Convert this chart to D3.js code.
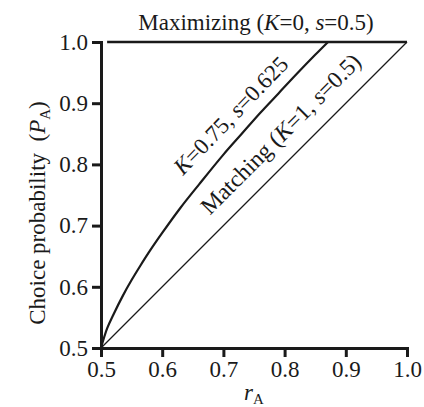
<!DOCTYPE html>
<html><head><meta charset="utf-8">
<script src="https://cdn.jsdelivr.net/npm/d3@7"></script>
<style>
body{margin:0;background:#fff;}
text{font-family:"Liberation Serif","Times New Roman",serif;fill:#1a1a1a;}
</style>
</head><body><svg id="c" width="424" height="407"></svg>
<script>
// ---- data ----
const xTicks = [0.5, 0.6, 0.7, 0.8, 0.9, 1.0];
const yTicks = [0.5, 0.6, 0.7, 0.8, 0.9, 1.0];
const matchR = [0.5, 1.0];
const matchP = [0.5, 1.0];
const kR = [0.5, 0.51, 0.52, 0.536, 0.55, 0.564, 0.58, 0.6, 0.629, 0.66, 0.7, 0.73, 0.76, 0.79, 0.82, 0.85, 0.871];
const kP = [0.5, 0.532, 0.554, 0.586, 0.611, 0.634, 0.659, 0.688, 0.728, 0.767, 0.816, 0.850, 0.884, 0.916, 0.948, 0.979, 1.0];
const maxR = [0.51, 1.0];
const maxP = [1.0, 1.0];

const W = 424, H = 407;
const m = {l: 101, r: 17, t: 42, b: 59};
const svg = d3.select("#c");
const x = d3.scaleLinear().domain([0.5, 1.0]).range([m.l, W - m.r]);
const y = d3.scaleLinear().domain([0.5, 1.0]).range([H - m.b, m.t]);
const FS = 23;
const ink = "#1a1a1a";
const FF = '"Liberation Serif","Times New Roman",serif';

svg.append("path").datum(d3.zip(matchR, matchP))
  .attr("d", d3.line().x(d => x(d[0])).y(d => y(d[1])))
  .attr("fill", "none").attr("stroke", ink).attr("stroke-width", 1.3);
svg.append("path").datum(d3.zip(kR, kP))
  .attr("d", d3.line().x(d => x(d[0])).y(d => y(d[1])).curve(d3.curveCatmullRom.alpha(0.5)))
  .attr("fill", "none").attr("stroke", ink).attr("stroke-width", 2.2);
svg.append("path").datum(d3.zip(maxR, maxP))
  .attr("d", d3.line().x(d => x(d[0])).y(d => y(d[1])))
  .attr("fill", "none").attr("stroke", ink).attr("stroke-width", 2.4);

// axes
const gx = svg.append("g").attr("transform", `translate(0,${y(0.5)})`)
  .call(d3.axisBottom(x).tickValues(xTicks).tickFormat(d3.format(".1f")).tickSize(9).tickSizeOuter(0).tickPadding(4));
const gy = svg.append("g").attr("transform", `translate(${x(0.5)},0)`)
  .call(d3.axisLeft(y).tickValues(yTicks).tickFormat(d3.format(".1f")).tickSize(9).tickSizeOuter(0).tickPadding(4));
[gx, gy].forEach(g => {
  g.select(".domain").attr("stroke", ink).attr("stroke-width", 3).attr("stroke-linecap", "square");
  g.selectAll(".tick line").attr("stroke", ink).attr("stroke-width", 3);
  g.selectAll(".tick text").attr("font-size", FS).attr("font-family", FF).attr("fill", ink);
});

// title
const t = svg.append("text").attr("x", (x(0.5) + x(1.0)) / 2 + 2).attr("y", 30)
  .attr("text-anchor", "middle").attr("font-size", FS);
t.append("tspan").text("Maximizing (");
t.append("tspan").attr("font-style", "italic").text("K");
t.append("tspan").text("=0, ");
t.append("tspan").attr("font-style", "italic").text("s");
t.append("tspan").text("=0.5)");

// x label
const xl = svg.append("text").attr("x", (x(0.5) + x(1.0)) / 2).attr("y", 400)
  .attr("text-anchor", "middle").attr("font-size", FS);
xl.append("tspan").attr("font-style", "italic").text("r");
xl.append("tspan").attr("font-size", 15).attr("dy", 4).text("A");

// y label
const yl = svg.append("text").attr("transform", `translate(45,${y(0.75) + 18}) rotate(-90)`)
  .attr("text-anchor", "middle").attr("font-size", FS);
yl.append("tspan").text("Choice probability\u00a0\u00a0(");
yl.append("tspan").attr("font-style", "italic").text("P");
yl.append("tspan").attr("font-size", 15).attr("dy", 5).text("A");
yl.append("tspan").attr("dy", -5).text(")");

// curve labels
const kl = svg.append("text")
  .attr("transform", `translate(${x(0.634)},${y(0.781)}) rotate(-46)`)
  .attr("font-size", FS);
kl.append("tspan").attr("font-style", "italic").text("K");
kl.append("tspan").text("=0.75, ");
kl.append("tspan").attr("font-style", "italic").text("s");
kl.append("tspan").text("=0.625");

const ml = svg.append("text")
  .attr("transform", `translate(${x(0.678)},${y(0.716)}) rotate(-45)`)
  .attr("font-size", FS + 0.5);
ml.append("tspan").text("Matching (");
ml.append("tspan").attr("font-style", "italic").text("K");
ml.append("tspan").text("=1, ");
ml.append("tspan").attr("font-style", "italic").text("s");
ml.append("tspan").text("=0.5)");
</script>
</body></html>
